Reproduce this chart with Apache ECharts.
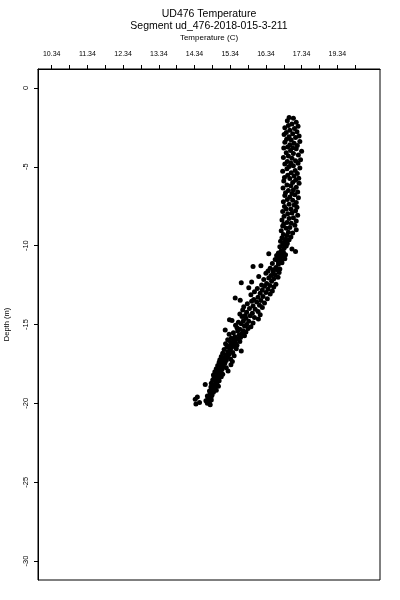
<!DOCTYPE html>
<html><head><meta charset="utf-8">
<script src="https://cdn.jsdelivr.net/npm/echarts@6/dist/echarts.min.js"></script>
<style>html,body{margin:0;padding:0;background:#fff}#c{width:400px;height:600px}</style>
</head><body><div id="c"></div>
<script>
const titleText = "UD476 Temperature";
const subtitleText = "Segment ud_476-2018-015-3-211";
const xAxisName = "Temperature (C)";
const yAxisName = "Depth (m)";
const xTickValues = [10.34,10.84,11.34,11.84,12.34,12.84,13.34,13.84,14.34,14.84,15.34,15.84,16.34,16.84,17.34,17.84,18.34,18.84];
const xLabelValues = [10.34,11.34,12.34,13.34,14.34,15.34,16.34,17.34,18.34];
const xLabelTexts = ["10.34","11.34","12.34","13.34","14.34","15.34","16.34","17.34","19.34"];
const yTickValues = [0,-5,-10,-15,-20,-25,-30];
const yLabelTexts = ["0","-5","-10","-15","-20","-25","-30"];

const depthValues = [
-1.88,-1.93,-2.08,-2.18,-2.28,-2.38,-2.43,-2.53,-2.58,-2.68,-2.78,-2.83,
-2.90,-2.95,-3.05,-3.10,-3.15,-3.25,-3.30,-3.40,-3.45,-3.50,-3.60,-3.65,-3.75,-3.80,
-3.81,-3.86,-3.96,-4.01,-4.11,-4.16,-4.26,-4.31,-4.41,-4.46,-4.56,-4.61,-4.66,-4.76,
-4.78,-4.83,-4.93,-4.98,-5.08,-5.13,-5.23,-5.28,-5.38,-5.43,-5.53,-5.58,-5.68,-5.73,
-5.75,-5.85,-5.90,-6.00,-6.05,-6.15,-6.20,-6.30,-6.35,-6.45,-6.50,-6.60,-6.65,-6.70,
-6.77,-6.82,-6.92,-6.97,-7.07,-7.12,-7.22,-7.27,-7.37,-7.42,-7.52,-7.57,-7.67,
-7.68,-7.78,-7.83,-7.93,-7.98,-8.08,-8.13,-8.23,-8.28,-8.38,-8.43,-8.53,-8.58,-8.63,
-8.70,-8.75,-8.85,-8.90,-9.00,-9.05,-9.15,-9.20,-9.30,-9.35,-9.45,-9.50,-9.60,
-9.62,-9.72,-9.77,-9.87,-9.92,-10.02,-10.07,-10.17,-10.22,-10.32,-10.37,-10.42,-10.47,-10.52,-10.57,
-10.58,-10.63,-10.68,-10.78,-10.83,-10.88,-10.93,-10.98,-11.08,-11.13,-11.18,-11.28,-11.33,-11.38,-11.43,-11.48,-11.53,
-11.55,-11.60,-11.65,-11.70,-11.75,-11.85,-11.90,-11.95,-12.00,-12.05,-12.10,-12.15,-12.25,-12.30,-12.35,-12.40,-12.45,-12.50,
-12.52,-12.57,-12.62,-12.67,-12.72,-12.77,-12.82,-12.87,-12.92,-12.97,-13.02,-13.07,-13.12,-13.22,-13.27,-13.32,-13.37,-13.42,-13.47,
-13.48,-13.53,-13.58,-13.63,-13.68,-13.78,-13.83,-13.88,-13.93,-13.98,-14.03,-14.08,-14.18,-14.23,-14.28,-14.33,-14.38,-14.43,
-14.45,-14.50,-14.55,-14.60,-14.65,-14.70,-14.75,-14.77,-14.80,-14.85,-14.90,-14.95,-15.00,-15.05,-15.10,-15.15,-15.20,-15.25,-15.30,-15.35,-15.40,
-15.42,-15.47,-15.52,-15.57,-15.62,-15.67,-15.72,-15.77,-15.82,-15.87,-15.92,-15.97,-16.02,-16.07,-16.12,-16.17,-16.22,-16.27,-16.32,-16.37,
-16.38,-16.43,-16.48,-16.53,-16.58,-16.63,-16.68,-16.73,-16.78,-16.83,-16.88,-16.93,-16.98,-17.03,-17.08,-17.13,-17.18,-17.23,-17.28,-17.33,
-17.35,-17.40,-17.45,-17.50,-17.55,-17.60,-17.65,-17.70,-17.75,-17.80,-17.85,-17.90,-17.95,-18.00,-18.05,-18.10,-18.15,-18.20,-18.25,-18.30,
-18.32,-18.37,-18.42,-18.52,-18.57,-18.62,-18.72,-18.77,-18.80,-18.82,-18.92,-18.97,-19.02,-19.12,-19.17,-19.22,
-19.29,-19.39,-19.49,-19.54,-19.59,-19.64,-19.69,-19.74,-19.79,-19.84,-19.89,-19.94,-19.99,-20.04,-20.09
];
const tempValues = [
16.99,17.11,16.94,17.19,17.07,16.97,17.24,16.87,17.14,17.01,17.21,16.91,
17.09,16.85,17.27,16.99,17.17,16.92,17.05,17.29,16.87,17.13,17.01,17.22,16.95,17.09,
16.84,17.19,17.03,17.34,16.91,17.11,17.25,16.97,16.83,17.07,17.31,17.17,16.94,17.04,
17.24,16.87,17.11,16.99,17.29,16.93,17.16,16.81,17.05,17.22,16.95,17.13,16.86,17.26,
17.01,17.17,16.84,17.09,17.27,16.93,17.04,17.19,16.82,17.11,16.97,17.23,16.89,17.07,
17.15,16.87,17.01,17.25,16.94,17.09,16.83,17.19,16.99,17.13,16.86,17.21,17.04,
16.91,17.17,16.81,17.07,16.95,17.23,16.85,17.11,16.99,16.79,17.19,16.93,17.05,16.84,
17.15,16.81,17.01,16.91,17.19,16.77,16.97,17.09,16.83,16.93,17.04,16.79,16.89,
16.99,16.75,16.87,16.94,16.81,16.91,16.73,16.85,17.07,16.77,17.17,16.83,16.69,16.42,16.89,
16.75,16.64,16.81,16.71,16.87,16.60,16.77,16.68,16.79,16.52,16.69,16.20,15.98,16.62,16.46,16.73,16.56,
16.66,16.40,16.54,16.71,16.34,16.60,16.48,16.14,16.68,16.42,16.56,16.28,16.50,15.94,15.65,16.36,16.62,16.22,
16.45,16.30,16.56,15.86,16.10,16.40,16.24,16.52,16.02,16.34,16.18,16.46,15.92,16.26,16.12,15.48,16.38,16.00,15.62,
16.20,15.94,16.08,16.30,15.82,16.16,15.98,15.72,16.24,15.88,16.04,15.69,16.12,15.80,15.96,15.61,16.18,15.76,
15.90,15.67,16.02,15.78,16.13,15.32,15.39,15.71,15.86,15.57,15.98,15.65,15.80,15.49,15.74,15.92,15.53,15.84,15.61,15.20,15.70,
15.55,15.78,15.43,15.67,15.31,15.59,15.74,15.47,15.63,15.37,15.53,15.27,15.45,15.61,15.35,15.49,15.21,15.41,15.53,15.31,
15.43,15.25,15.37,15.51,15.17,15.33,15.65,15.27,15.41,15.13,15.31,15.21,15.45,15.09,15.27,15.17,15.35,15.05,15.23,15.13,
15.40,15.03,15.19,15.11,15.36,14.99,15.15,15.07,15.23,14.95,15.11,15.03,15.28,14.91,15.07,14.99,15.13,14.87,15.03,14.95,
15.09,14.89,14.99,14.85,15.03,14.93,14.81,14.97,14.64,14.89,15.01,14.80,14.91,14.83,14.95,14.76,
14.87,14.78,14.83,14.70,14.42,14.80,14.72,14.36,14.81,14.66,14.76,14.48,14.70,14.38,14.78
];

const points = depthValues.map((d, i) => [tempValues[i], d]);
const font = "'Liberation Sans', Arial, sans-serif";

const chart = echarts.init(document.getElementById('c'), null, {renderer: 'canvas'});
chart.setOption({
  animation: false,
  backgroundColor: '#fff',
  grid: {left: 38, right: 20, top: 69, bottom: 20, containLabel: false, outerBoundsMode: 'none',
         show: true, borderColor: '#000', borderWidth: 1, backgroundColor: 'transparent'},
  graphic: [
    {type: 'text', x: 209, y: 14.5, style: {text: titleText, font: "10.5px " + font, fill: '#000', textAlign: 'center', textVerticalAlign: 'middle'}},
    {type: 'text', x: 209, y: 26.5, style: {text: subtitleText, font: "10.5px " + font, fill: '#000', textAlign: 'center', textVerticalAlign: 'middle'}}
  ],
  xAxis: {
    type: 'value', position: 'top', min: 9.956, max: 19.536,
    name: xAxisName, nameLocation: 'middle', nameGap: 27,
    nameTextStyle: {fontSize: 8, color: '#000', fontFamily: font},
    axisLine: {show: true, onZero: false, lineStyle: {color: '#000', width: 1}},
    axisTick: {show: true, inside: false, length: 4, customValues: xTickValues, lineStyle: {color: '#000', width: 1}},
    axisLabel: {
      show: true, customValues: xLabelValues, margin: 11, fontSize: 7, color: '#000',
      fontFamily: "'Liberation Sans Narrow', " + font,
      formatter: function (v) {
        for (let i = 0; i < xLabelValues.length; i++) if (Math.abs(xLabelValues[i] - v) < 1e-6) return xLabelTexts[i];
        return '';
      }
    },
    splitLine: {show: false}
  },
  yAxis: {
    type: 'value', min: -31.2, max: 1.2,
    name: yAxisName, nameLocation: 'middle', nameGap: 27, nameRotate: 90,
    nameTextStyle: {fontSize: 7.5, color: '#000', fontFamily: font},
    axisLine: {show: true, onZero: false, lineStyle: {color: '#000', width: 1}},
    axisTick: {show: true, inside: false, length: 4, customValues: yTickValues, lineStyle: {color: '#000', width: 1}},
    axisLabel: {
      show: true, customValues: yTickValues, rotate: 90, margin: 8, fontSize: 7.5, color: '#000', fontFamily: font,
      formatter: function (v) {
        for (let i = 0; i < yTickValues.length; i++) if (Math.abs(yTickValues[i] - v) < 1e-6) return yLabelTexts[i];
        return '';
      }
    },
    splitLine: {show: false}
  },
  series: [{
    type: 'scatter', data: points, symbol: 'circle', symbolSize: 5,
    itemStyle: {color: '#000', opacity: 1}, silent: true
  }]
});
</script>
</body></html>
